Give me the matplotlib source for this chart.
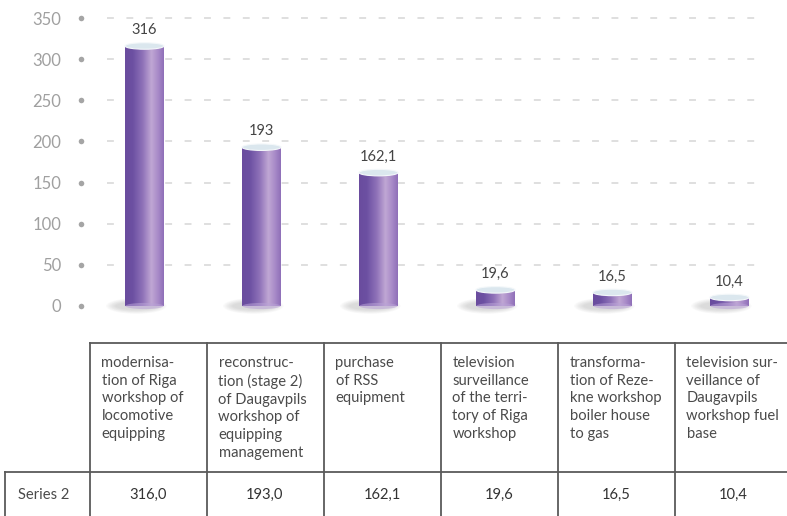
import matplotlib
matplotlib.use("Agg")
import matplotlib.pyplot as plt
import numpy as np
from matplotlib.patches import Ellipse, Rectangle
from matplotlib.colors import LinearSegmentedColormap
import matplotlib.transforms as mtransforms

plt.rcParams['font.family'] = ['Lato', 'DejaVu Sans']

categories = [
    "modernisa-\ntion of Riga\nworkshop of\nlocomotive\nequipping",
    "reconstruc-\ntion (stage 2)\nof Daugavpils\nworkshop of\nequipping\nmanagement",
    "purchase\nof RSS\nequipment",
    "television\nsurveillance\nof the terri-\ntory of Riga\nworkshop",
    "transforma-\ntion of Reze-\nkne workshop\nboiler house\nto gas",
    "television sur-\nveillance of\nDaugavpils\nworkshop fuel\nbase",
]
values = [316.0, 193.0, 162.1, 19.6, 16.5, 10.4]
bar_labels = ["316", "193", "162,1", "19,6", "16,5", "10,4"]
table_values = ["316,0", "193,0", "162,1", "19,6", "16,5", "10,4"]
series_name = "Series 2"
yticks = [0, 50, 100, 150, 200, 250, 300, 350]

W, H = 787, 516
fig = plt.figure(figsize=(W / 100, H / 100), dpi=100)
# axes: x from 86 px to 788 px, y: 0 at 306 px from top, 350 at 18 px
ax = fig.add_axes([86 / W, (H - 306) / H, 702 / W, 288 / H])
ax.set_xlim(-0.5, 5.5)
ax.set_ylim(0, 350)
for s in ax.spines.values():
    s.set_visible(False)
ax.set_xticks([])
ax.set_yticks(yticks)
ax.set_yticklabels([str(t) for t in yticks], color="#a0a0a0", fontsize=12)
ax.tick_params(axis="y", length=0, pad=18)

x = np.arange(len(values))
px_per_x = 117.0
px_per_y = 288 / 350

# grid lines
for t in yticks[1:]:
    ax.plot([-0.32, (764 - 144.5) / px_per_x], [t, t], color="#d6d6d6", lw=1.1,
            dashes=(4.5, 8.2), zorder=0, clip_on=False)

# dots next to tick labels
dot_tr = mtransforms.blended_transform_factory(ax.transAxes, ax.transData)
ax.scatter([(81 - 86) / 702] * len(yticks), yticks, s=16, color="#a5a5a5",
           transform=dot_tr, clip_on=False, zorder=3, linewidths=0)

bw = 39 / px_per_x
bars = ax.bar(x, values, width=bw, color="none", edgecolor="none", zorder=2)

cmap = LinearSegmentedColormap.from_list("cyl", [
    (0.0, "#6a4c9e"), (0.2, "#6c50a2"), (0.45, "#8e71b8"),
    (0.68, "#c0a7d4"), (0.85, "#a88ac8"), (1.0, "#8f6fb8")])
grad = np.linspace(0, 1, 256).reshape(1, -1)

eh = 6.5 / px_per_y  # ellipse height in data units

for b in bars:
    x0 = b.get_x()
    w = b.get_width()
    h = b.get_height()
    xc = x0 + w / 2
    # shadow
    for k in range(8):
        f = 1 - k / 8
        sh = Ellipse((xc - 0.07, 0), w * (1.0 + 0.55 * f), eh * (1.0 + 1.4 * f),
                     facecolor="#7a7a7a", edgecolor="none", alpha=0.035,
                     zorder=1, clip_on=False)
        ax.add_patch(sh)
    # body
    rect = Rectangle((x0, 0), w, h, transform=ax.transData)
    im = ax.imshow(grad, extent=[x0, x0 + w, -eh, h], aspect="auto", cmap=cmap,
                   zorder=2, interpolation="bilinear")
    im.set_clip_path(rect)
    bot = Ellipse((xc, 0), w, eh, transform=ax.transData)
    im2 = ax.imshow(grad, extent=[x0, x0 + w, -eh, h], aspect="auto", cmap=cmap,
                    zorder=2, interpolation="bilinear")
    im2.set_clip_path(bot)
    # bottom cap highlight
    ax.add_patch(Ellipse((xc, 0), w * 0.98, eh * 0.95, facecolor="#b9a2d6",
                         edgecolor="none", alpha=0.55, zorder=3, clip_on=False))
    # top cap
    ax.add_patch(Ellipse((xc, h), w, eh, facecolor="#dbe7ee", edgecolor="#f4f8fa",
                         lw=0.8, zorder=4, clip_on=False))

ax.set_xlim(-0.5, 5.5)
ax.set_ylim(0, 350)

for xi, v, lab in zip(x, values, bar_labels):
    ax.annotate(lab, (xi, v), xytext=(0, 6.5), textcoords="offset points",
                ha="center", va="bottom", fontsize=10.5, color="#444444",
                zorder=5)

# table
tr = mtransforms.blended_transform_factory(ax.transData, fig.transFigure)
lc = "#5a5a5a"
def fy(py):
    return 1 - py / H
off = 3.5 / px_per_x
left_edge = -0.5 + off
right_x = (790 - 144.5) / px_per_x
xl0 = (5 - 144.5) / px_per_x
# horizontal lines
fig.add_artist(plt.Line2D([left_edge, right_x], [fy(343), fy(343)], transform=tr,
                          color=lc, lw=1.3))
fig.add_artist(plt.Line2D([xl0, right_x], [fy(472), fy(472)], transform=tr,
                          color=lc, lw=1.3))
fig.add_artist(plt.Line2D([xl0, xl0], [fy(472), fy(518)], transform=tr,
                          color=lc, lw=1.3))
for i in range(len(values) + 1):
    bx = i - 0.5 + off
    fig.add_artist(plt.Line2D([bx, bx], [fy(343), fy(518)], transform=tr,
                              color=lc, lw=1.3))

for i, (cat, tv) in enumerate(zip(categories, table_values)):
    fig.text(i - 0.5 + off + 12 / px_per_x, fy(356), cat, transform=tr,
             ha="left", va="top", fontsize=10.6, color="#4a4a4a", linespacing=1.33)
    fig.text(i + off, fy(495), tv, transform=tr, ha="center", va="center",
             fontsize=10.6, color="#333333")

fig.text(44 / W, fy(495), series_name, ha="center", va="center", fontsize=10.6,
         color="#4a4a4a")

fig.savefig("out.png", dpi=100)
